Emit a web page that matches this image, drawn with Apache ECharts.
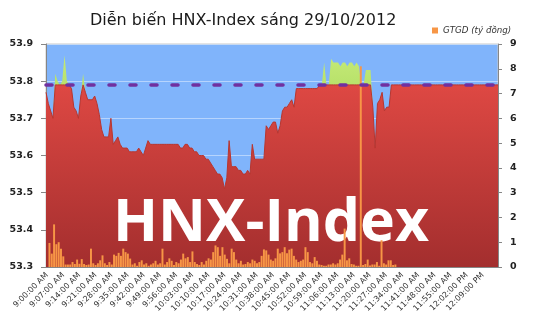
<!DOCTYPE html>
<html><head><meta charset="utf-8">
<script src="https://cdn.jsdelivr.net/npm/echarts@6/dist/echarts.min.js"></script>
<style>html,body{margin:0;padding:0;background:#fff}#c{width:535px;height:335px}</style>
</head><body><div id="c"></div>
<script>
const titleText = 'Diễn biến HNX-Index sáng 29/10/2012';
const watermarkText = 'HNX-Index';
const legendName = 'GTGD (tỷ đồng)';
const refLevel = 53.79;
const leftTicks = [53.3, 53.4, 53.5, 53.6, 53.7, 53.8, 53.9];
const rightTicks = [0, 1, 2, 3, 4, 5, 6, 7, 8, 9];
const labelEvery = 7;

// one category per minute, 9:00:00 AM .. 12:15:00 PM
const firstMinute = 9 * 60, minuteCount = 196;
function timeLabel(t) {
  const h = Math.floor(t / 60), m = t % 60;
  const h12 = h > 12 ? h - 12 : h;
  return h12 + ':' + String(m).padStart(2, '0') + ':00 ' + (h >= 12 ? 'PM' : 'AM');
}
const categories = [];
for (let i = 0; i < minuteCount; i++) categories.push(timeLabel(firstMinute + i));

const indexValues = [
  53.77, 53.74, 53.72, 53.70, 53.82, 53.80, 53.79, 53.80, 53.87, 53.80,
  53.79, 53.78, 53.73, 53.72, 53.70, 53.76, 53.82, 53.77, 53.75, 53.75,
  53.75, 53.76, 53.74, 53.71, 53.67, 53.65, 53.65, 53.65, 53.70, 53.63,
  53.64, 53.65, 53.63, 53.62, 53.62, 53.62, 53.61, 53.61, 53.61, 53.61,
  53.62, 53.61, 53.60, 53.62, 53.64, 53.63, 53.63, 53.63, 53.63, 53.63,
  53.63, 53.63, 53.63, 53.63, 53.63, 53.63, 53.63, 53.63, 53.62, 53.62,
  53.63, 53.63, 53.62, 53.62, 53.61, 53.61, 53.60, 53.60, 53.60, 53.59,
  53.59, 53.58, 53.57, 53.56, 53.55, 53.55, 53.54, 53.51, 53.54, 53.64,
  53.57, 53.57, 53.57, 53.56, 53.56, 53.55, 53.55, 53.56, 53.55, 53.63,
  53.59, 53.59, 53.59, 53.59, 53.59, 53.68, 53.67, 53.68, 53.69, 53.69,
  53.66, 53.68, 53.72, 53.73, 53.73, 53.74, 53.75, 53.73, 53.78, 53.78,
  53.78, 53.78, 53.78, 53.78, 53.78, 53.78, 53.78, 53.78, 53.79, 53.79,
  53.85, 53.79, 53.79, 53.86, 53.85, 53.85, 53.85, 53.84, 53.85, 53.85,
  53.84, 53.85, 53.85, 53.84, 53.85, 53.84, 53.79, 53.79, 53.83, 53.83,
  53.83, 53.73, 53.62, 53.74, 53.75, 53.77, 53.72, 53.73, 53.73, 53.79,
  53.79, 53.79, 53.79, 53.79, 53.79, 53.79, 53.79, 53.79, 53.79, 53.79,
  53.79, 53.79, 53.79, 53.79, 53.79, 53.79, 53.79, 53.79, 53.79, 53.79,
  53.79, 53.79, 53.79, 53.79, 53.79, 53.79, 53.79, 53.79, 53.79, 53.79,
  53.79, 53.79, 53.79, 53.79, 53.79, 53.79, 53.79, 53.79, 53.79, 53.79,
  53.79, 53.79, 53.79, 53.79, 53.79, 53.79
];

const volumeValues = [
  0, 0.97, 0.54, 1.72, 0.92, 1.0, 0.74, 0.43, 0.1, 0.1,
  0.1, 0.2, 0.12, 0.3, 0.13, 0.32, 0.12, 0.08, 0.1, 0.74,
  0.15, 0.08, 0.15, 0.27, 0.47, 0.15, 0.08, 0.2, 0.1, 0.5,
  0.45, 0.57, 0.45, 0.74, 0.6, 0.54, 0.34, 0.1, 0.15, 0.05,
  0.2, 0.27, 0.1, 0.15, 0.05, 0.1, 0.15, 0.25, 0.1, 0.15,
  0.74, 0.1, 0.2, 0.35, 0.25, 0.08, 0.2, 0.15, 0.3, 0.54,
  0.35, 0.4, 0.2, 0.63, 0.2, 0.12, 0.08, 0.2, 0.1, 0.25,
  0.35, 0.3, 0.6, 0.87, 0.8, 0.45, 0.8, 0.5, 0.33, 0.15,
  0.74, 0.6, 0.3, 0.15, 0.25, 0.1, 0.12, 0.2, 0.15, 0.3,
  0.25, 0.15, 0.2, 0.45, 0.71, 0.67, 0.5, 0.3, 0.25, 0.35,
  0.74, 0.55, 0.6, 0.8, 0.55, 0.7, 0.74, 0.45, 0.3, 0.2,
  0.25, 0.3, 0.8, 0.6, 0.2, 0.15, 0.4, 0.25, 0.1, 0.08,
  0.05, 0.05, 0.1, 0.1, 0.15, 0.1, 0.15, 0.3, 0.5, 1.55,
  0.27, 0.35, 0.12, 0.1, 0.05, 0.05, 8.1, 0.08, 0.12, 0.3,
  0.06, 0.1, 0.1, 0.2, 0.05, 1.08, 0.15, 0.1, 0.27, 0.27,
  0.08, 0.1, 0, 0, 0, 0, 0, 0, 0, 0,
  0, 0, 0, 0, 0, 0, 0, 0, 0, 0,
  0, 0, 0, 0, 0, 0, 0, 0, 0, 0,
  0, 0, 0, 0, 0, 0, 0, 0, 0, 0,
  0, 0, 0, 0, 0, 0
];

// split the index at the reference level: red part below, green part above
const belowRef = indexValues.map(v => Math.min(v, refLevel));
const aboveRef = indexValues.map(v => Math.max(Math.round((v - refLevel) * 10000) / 10000, 0));

const chart = echarts.init(document.getElementById('c'), null, {renderer: 'canvas'});
const axisFont = 'DejaVu Sans';
chart.setOption({
  animation: false,
  textStyle: {fontFamily: axisFont},
  title: {
    text: titleText, left: 85, top: 8,
    textStyle: {fontFamily: axisFont, fontSize: 16, fontWeight: 'normal', color: '#1a1a1a'}
  },
  legend: {
    data: [{name: legendName, icon: 'rect'}],
    left: 432, top: 26, itemWidth: 6, itemHeight: 6, itemGap: 5, padding: 0,
    textStyle: {fontFamily: axisFont, fontStyle: 'italic', fontSize: 8.7, color: '#333'}
  },
  grid: {
    left: 46, right: 37, top: 44, bottom: 68,
    show: true, backgroundColor: '#80b4fb', borderColor: '#c8c8c8', borderWidth: 1
  },
  xAxis: [
    {
      type: 'category', data: categories, boundaryGap: true,
      axisLine: {lineStyle: {color: '#868686', width: 1}},
      axisTick: {interval: 0, length: 3, lineStyle: {color: '#9a9a9a'}},
      axisLabel: {interval: labelEvery - 1, rotate: 45, fontSize: 8, color: '#333', margin: 7, fontFamily: axisFont},
      splitLine: {show: false}
    },
    {type: 'category', data: categories, boundaryGap: false, show: false}
  ],
  yAxis: [
    {
      type: 'value', position: 'left',
      min: leftTicks[0], max: leftTicks[leftTicks.length - 1], interval: 0.1,
      axisLine: {show: true, lineStyle: {color: '#868686'}},
      axisTick: {show: true, length: 5, lineStyle: {color: '#868686'}},
      axisLabel: {formatter: v => v.toFixed(1), fontSize: 9.5, fontWeight: 'bold', color: '#222', margin: 13, fontFamily: axisFont},
      splitLine: {show: true, lineStyle: {color: 'rgba(225,238,255,0.55)', width: 1}}
    },
    {
      type: 'value', position: 'right',
      min: rightTicks[0], max: rightTicks[rightTicks.length - 1], interval: 1,
      axisLine: {show: true, lineStyle: {color: '#868686'}},
      axisTick: {show: true, length: 4, lineStyle: {color: '#868686'}},
      axisLabel: {fontSize: 9.5, fontWeight: 'bold', color: '#222', margin: 12, fontFamily: axisFont},
      splitLine: {show: false}
    }
  ],
  graphic: [{
    type: 'text', x: 271, y: 224, z: 3, silent: true,
    style: {
      text: watermarkText, fill: '#ffffff',
      fontFamily: 'Open Sans', fontWeight: 'bold', fontSize: 59,
      align: 'center', verticalAlign: 'middle',
      shadowColor: 'rgba(40,0,0,0.55)', shadowBlur: 4, shadowOffsetX: 2, shadowOffsetY: 2
    }
  }],
  series: [
    {
      name: 'index', type: 'line', xAxisIndex: 1, yAxisIndex: 0,
      data: belowRef, stack: 'idx', showSymbol: false, symbol: 'none', silent: true, z: 2,
      lineStyle: {width: 1, color: '#b8362f'},
      areaStyle: {opacity: 1, color: new echarts.graphic.LinearGradient(0, 0, 0, 1, [
        {offset: 0, color: '#de4843'}, {offset: 1, color: '#a32e2e'}
      ])}
    },
    {
      name: 'above', type: 'line', xAxisIndex: 1, yAxisIndex: 0,
      data: aboveRef, stack: 'idx', showSymbol: false, symbol: 'none', silent: true, z: 2,
      lineStyle: {width: 0},
      areaStyle: {opacity: 1, color: new echarts.graphic.LinearGradient(0, 0, 0, 1, [
        {offset: 0, color: '#c4ea78'}, {offset: 1, color: '#8fc33a'}
      ])},
      markLine: {
        silent: true, symbol: ['none', 'none'], label: {show: false}, animation: false,
        lineStyle: {type: [6, 15], width: 3.5, color: '#7030a0', cap: 'round', opacity: 1},
        emphasis: {disabled: true},
        data: [{yAxis: refLevel}]
      }
    },
    {
      name: legendName, type: 'bar', xAxisIndex: 0, yAxisIndex: 1,
      data: volumeValues, barCategoryGap: '15%', z: 4, silent: true,
      itemStyle: {color: '#f79646'}
    }
  ]
});
</script></body></html>
